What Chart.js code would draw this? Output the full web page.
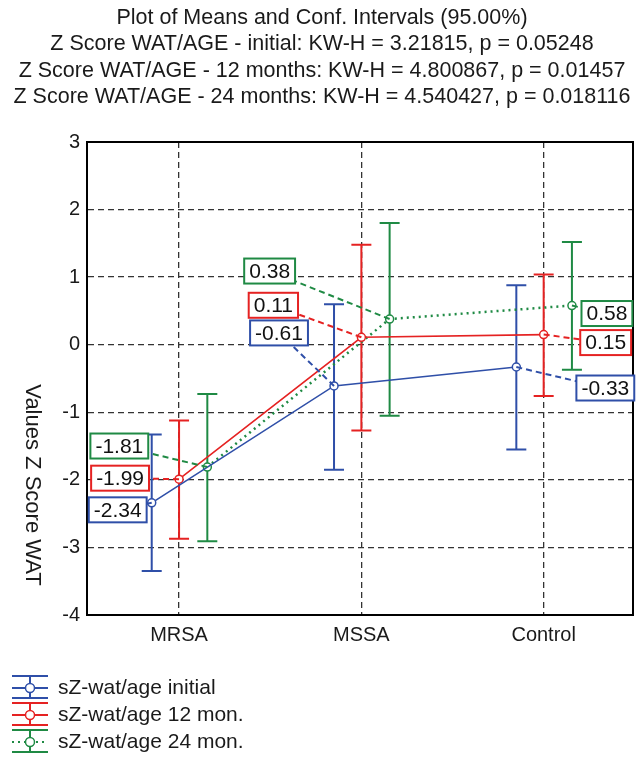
<!DOCTYPE html>
<html>
<head>
<meta charset="utf-8">
<script src="https://cdn.jsdelivr.net/npm/chart.js@4.4.1/dist/chart.umd.min.js"></script>
<style>
  html, body { margin: 0; padding: 0; background: #fff; }
  #wrap { width: 644px; height: 757px; }
</style>
</head>
<body>
<div id="wrap"><canvas id="chart" width="644" height="757"></canvas></div>
<script>
// Data
const categories = ['MRSA', 'MSSA', 'Control'];
const seriesNames = ['sZ-wat/age initial', 'sZ-wat/age 12 mon.', 'sZ-wat/age 24 mon.'];

const meanInitial = [-2.34, -0.61, -0.33];
const lowInitial = [-3.35, -1.85, -1.55];
const highInitial = [-1.33, 0.60, 0.88];

const mean12 = [-1.99, 0.11, 0.15];
const low12 = [-2.87, -1.27, -0.76];
const high12 = [-1.12, 1.48, 1.04];

const mean24 = [-1.81, 0.38, 0.58];
const low24 = [-2.91, -1.05, -0.37];
const high24 = [-0.73, 1.80, 1.52];

const titleLines = [
  'Plot of Means and Conf. Intervals (95.00%)',
  'Z Score WAT/AGE - initial: KW-H = 3.21815, p = 0.05248',
  'Z Score WAT/AGE - 12 months: KW-H = 4.800867, p = 0.01457',
  'Z Score WAT/AGE - 24 months: KW-H = 4.540427, p = 0.018116'
];
const yTitle = 'Values Z Score WAT';

const FONT = '"Liberation Sans", Arial, sans-serif';
const colors = ['#2f4fa8', '#e52222', '#1f8a44'];
const xShift = [-0.15, 0, 0.155];   // horizontal spread of the three series
// value box offsets (px) from each point: [series][category]
const boxOffsets = [
  [[-34, 7], [-55, -53], [89, 21]],
  [[-59, -1], [-88, -32], [62, 8]],
  [[-88, -21], [-120, -48], [35, 8]]
];

const means = [meanInitial, mean12, mean24];
const lows = [lowInitial, low12, low24];
const highs = [highInitial, high12, high24];

const toPoints = (arr, s) => arr.map((v, i) => ({ x: i + xShift[s], y: v }));

const errorBars = {
  id: 'errorBars',
  beforeDatasetsDraw(chart) {
    const { ctx, scales: { x, y } } = chart;
    ctx.save();
    means.forEach((m, s) => {
      ctx.strokeStyle = colors[s];
      ctx.lineWidth = 2;
      ctx.setLineDash([]);
      m.forEach((_, i) => {
        const px = x.getPixelForValue(i + xShift[s]);
        const top = y.getPixelForValue(highs[s][i]);
        const bot = y.getPixelForValue(lows[s][i]);
        ctx.beginPath();
        ctx.moveTo(px, top); ctx.lineTo(px, bot);
        ctx.moveTo(px - 10, top); ctx.lineTo(px + 10, top);
        ctx.moveTo(px - 10, bot); ctx.lineTo(px + 10, bot);
        ctx.stroke();
      });
    });
    ctx.restore();
  }
};

const frame = {
  id: 'frame',
  beforeDatasetsDraw(chart) {
    const { ctx, chartArea: a } = chart;
    ctx.save();
    ctx.strokeStyle = '#000';
    ctx.lineWidth = 2;
    ctx.strokeRect(a.left, a.top, a.right - a.left, a.bottom - a.top);
    ctx.restore();
  }
};

const valueBoxes = {
  id: 'valueBoxes',
  afterDatasetsDraw(chart) {
    const { ctx } = chart;
    ctx.save();
    ctx.font = '21px ' + FONT;
    ctx.textAlign = 'center';
    ctx.textBaseline = 'middle';
    means.forEach((m, s) => {
      const meta = chart.getDatasetMeta(s);
      m.forEach((v, i) => {
        const pt = meta.data[i];
        const cx = pt.x + boxOffsets[s][i][0];
        const cy = pt.y + boxOffsets[s][i][1];
        const txt = v.toFixed(2);
        const w = ctx.measureText(txt).width + 10;
        const h = 25;
        ctx.strokeStyle = colors[s];
        ctx.lineWidth = 2;
        ctx.setLineDash([6, 4]);
        ctx.beginPath();
        ctx.moveTo(pt.x, pt.y); ctx.lineTo(cx, cy);
        ctx.stroke();
        ctx.setLineDash([]);
        ctx.fillStyle = '#fff';
        ctx.fillRect(cx - w / 2, cy - h / 2, w, h);
        ctx.strokeRect(cx - w / 2, cy - h / 2, w, h);
        ctx.fillStyle = '#111';
        ctx.fillText(txt, cx, cy + 1);
      });
    });
    ctx.restore();
  }
};

const textParts = {
  id: 'textParts',
  afterDraw(chart) {
    const { ctx } = chart;
    ctx.save();
    ctx.fillStyle = '#1a1a1a';
    ctx.font = '21.5px ' + FONT;
    ctx.textAlign = 'center';
    ctx.textBaseline = 'middle';
    titleLines.forEach((t, k) => ctx.fillText(t, 322, 18 + k * 26.3));

    // y axis title, reads top to bottom
    ctx.font = '22px ' + FONT;
    ctx.save();
    ctx.translate(32, 485);
    ctx.rotate(Math.PI / 2);
    ctx.fillText(yTitle, 0, 0);
    ctx.restore();

    // legend
    ctx.font = '21px ' + FONT;
    const rows = [688, 715, 742];
    seriesNames.forEach((name, s) => {
      const cy = rows[s], cx = 30;
      ctx.strokeStyle = colors[s];
      ctx.lineWidth = 2;
      ctx.setLineDash([]);
      ctx.beginPath();
      ctx.moveTo(12, cy - 12); ctx.lineTo(48, cy - 12);
      ctx.moveTo(12, cy + 10); ctx.lineTo(48, cy + 10);
      ctx.moveTo(cx, cy - 12); ctx.lineTo(cx, cy + 10);
      ctx.stroke();
      if (s === 2) ctx.setLineDash([2, 4]);
      ctx.beginPath();
      ctx.moveTo(12, cy); ctx.lineTo(48, cy);
      ctx.stroke();
      ctx.setLineDash([]);
      ctx.fillStyle = '#fff';
      ctx.lineWidth = 1.5;
      ctx.beginPath();
      ctx.arc(cx, cy, 4.5, 0, Math.PI * 2);
      ctx.fill(); ctx.stroke();
      ctx.fillStyle = '#1a1a1a';
      ctx.textAlign = 'left';
      ctx.fillText(name, 58, cy);
    });
    ctx.restore();
  }
};

new Chart(document.getElementById('chart'), {
  type: 'line',
  data: {
    datasets: means.map((m, s) => ({
      label: seriesNames[s],
      data: toPoints(m, s),
      borderColor: colors[s],
      borderWidth: s === 2 ? 2.5 : 1.6,
      borderDash: s === 2 ? [2, 4] : [],
      pointRadius: 4,
      pointBackgroundColor: '#fff',
      pointBorderColor: colors[s],
      pointBorderWidth: 1.5,
      fill: false,
      tension: 0
    }))
  },
  options: {
    responsive: false,
    animation: false,
    devicePixelRatio: 1,
    layout: { padding: { top: 142, right: 11, bottom: 102, left: 0 } },
    plugins: { legend: { display: false }, title: { display: false }, tooltip: { enabled: false } },
    scales: {
      x: {
        type: 'linear',
        min: -0.505,
        max: 2.49,
        afterBuildTicks: sc => { sc.ticks = categories.map((_, i) => ({ value: i })); },
        afterFit: sc => { sc.height = 40; },
        ticks: {
          callback: v => categories[v],
          color: '#1a1a1a',
          font: { family: FONT, size: 20 },
          padding: 8,
          maxRotation: 0
        },
        grid: { color: '#333', lineWidth: 1.3, drawTicks: false },
        border: { dash: [6, 4], color: '#000', width: 2 }
      },
      y: {
        min: -4,
        max: 3,
        afterFit: sc => { sc.width = 87; },
        ticks: {
          stepSize: 1,
          color: '#1a1a1a',
          font: { family: FONT, size: 20 },
          padding: 7
        },
        grid: { color: '#333', lineWidth: 1.3, drawTicks: false },
        border: { dash: [6, 4], color: '#000', width: 2 }
      }
    }
  },
  plugins: [frame, errorBars, valueBoxes, textParts]
});
</script>
</body>
</html>
